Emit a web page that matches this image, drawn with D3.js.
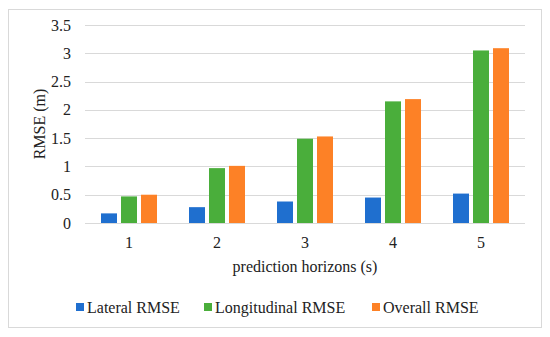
<!DOCTYPE html>
<html>
<head>
<meta charset="utf-8">
<script src="https://cdn.jsdelivr.net/npm/d3@7"></script>
<style>
  body { margin: 0; background: #fff; }
  svg text { font-family: "Liberation Serif", "Times New Roman", "DejaVu Serif", serif; fill: #222; }
</style>
</head>
<body>
<div id="chart"></div>
<script>
// 数据
const horizons = ['1', '2', '3', '4', '5'];
const seriesNames = ['Lateral RMSE', 'Longitudinal RMSE', 'Overall RMSE'];
const lateral = [0.17, 0.28, 0.38, 0.45, 0.52];
const longitudinal = [0.47, 0.97, 1.49, 2.15, 3.05];
const overall = [0.50, 1.01, 1.53, 2.19, 3.09];
const yTicks = [0, 0.5, 1, 1.5, 2, 2.5, 3, 3.5];
const colors = ['#1f6fcf', '#4aae3b', '#fd8126'];

const width = 550, height = 337;
const margin = { left: 85, right: 25, top: 25, bottom: 114 };
const serif = '"Liberation Serif", "Times New Roman", "DejaVu Serif", serif';

const svg = d3.select('#chart').append('svg')
    .attr('width', width)
    .attr('height', height);

// 外框
svg.append('rect')
    .attr('x', 8.5).attr('y', 9.5)
    .attr('width', 533).attr('height', 318)
    .attr('fill', '#fff')
    .attr('stroke', '#d9d9d9');

const x0 = d3.scaleBand()
    .domain(horizons)
    .range([margin.left, width - margin.right])
    .paddingInner(0.1).paddingOuter(0.05);

const x1 = d3.scaleBand()
    .domain(seriesNames)
    .range([0, x0.bandwidth()])
    .paddingInner(0.2).paddingOuter(0.58);

const y = d3.scaleLinear()
    .domain([0, 3.5])
    .range([height - margin.bottom, margin.top]);

// 网格线
svg.append('g')
    .selectAll('line')
    .data(yTicks)
    .enter().append('line')
    .attr('x1', margin.left)
    .attr('x2', width - margin.right)
    .attr('y1', d => Math.round(y(d)) + 0.5)
    .attr('y2', d => Math.round(y(d)) + 0.5)
    .attr('stroke', '#d9d9d9')
    .attr('stroke-width', 1);

// y轴标签
const yAxis = svg.append('g')
    .attr('transform', `translate(${margin.left - 14},0)`)
    .call(d3.axisLeft(y).tickValues(yTicks).tickSize(0).tickPadding(0).tickFormat(d3.format('')));
yAxis.attr('font-family', serif).attr('font-size', 16);
yAxis.select('.domain').remove();
yAxis.selectAll('text').attr('fill', '#222');

// 柱子
const rows = horizons.map((h, i) => ({ h, values: [lateral[i], longitudinal[i], overall[i]] }));

svg.append('g')
    .selectAll('g')
    .data(rows)
    .enter().append('g')
    .attr('transform', d => `translate(${x0(d.h)},0)`)
    .selectAll('rect')
    .data(d => d.values.map((v, k) => ({ name: seriesNames[k], v, k })))
    .enter().append('rect')
    .attr('x', d => x1(d.name))
    .attr('width', x1.bandwidth())
    .attr('y', d => y(d.v))
    .attr('height', d => y(0) - y(d.v))
    .attr('fill', d => colors[d.k]);

// x轴标签
const xAxis = svg.append('g')
    .attr('transform', `translate(0,${y(0) + 14})`)
    .call(d3.axisBottom(x0).tickSize(0).tickPadding(0));
xAxis.attr('font-family', serif).attr('font-size', 16);
xAxis.select('.domain').remove();
xAxis.selectAll('text').attr('fill', '#222');

// 轴标题
svg.append('text')
    .attr('x', (margin.left + width - margin.right) / 2)
    .attr('y', 272)
    .attr('text-anchor', 'middle')
    .style('font-size', '16px')
    .text('prediction horizons (s)');

svg.append('text')
    .attr('transform', `translate(45,124) rotate(-90)`)
    .attr('text-anchor', 'middle')
    .style('font-size', '16px')
    .text('RMSE (m)');

// 图例
const legendX = [76, 204, 372];
const legend = svg.append('g')
    .selectAll('g')
    .data(seriesNames)
    .enter().append('g')
    .attr('transform', (d, i) => `translate(${legendX[i]},307)`);

legend.append('rect')
    .attr('x', 0).attr('y', -4)
    .attr('width', 8).attr('height', 8)
    .attr('fill', (d, i) => colors[i]);

legend.append('text')
    .attr('x', 11)
    .attr('y', 5.5)
    .style('font-size', '16px')
    .text(d => d);
</script>
</body>
</html>
